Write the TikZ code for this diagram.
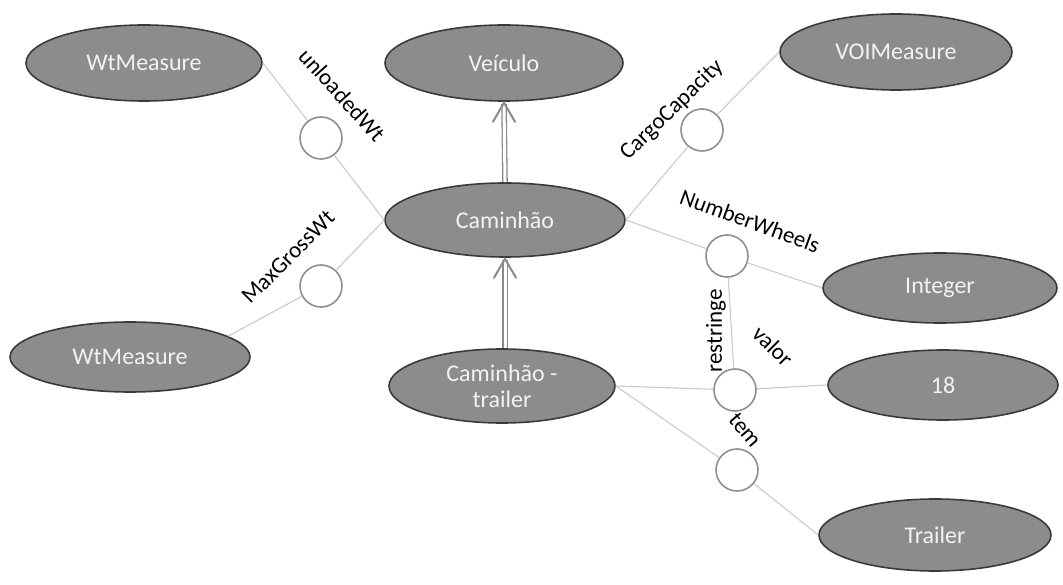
\documentclass[tikz,border=0pt]{standalone}
\usepackage{fontspec}
\setmainfont{Carlito}
\usetikzlibrary{shapes.geometric}
\definecolor{efill}{HTML}{8C8C8C}
\definecolor{eline}{HTML}{3A3A3A}
\definecolor{cline}{HTML}{8E8E8E}
\definecolor{conn}{HTML}{CACACA}
\definecolor{isa}{HTML}{8A8A8A}
\tikzset{
  concept/.style={ellipse, draw=eline, line width=1.6pt, fill=efill, text=white!95!black,
    inner sep=0pt, font=\fontsize{24}{26}\selectfont, align=center},
  relc/.style={circle, draw=cline, line width=1.6pt, fill=white, minimum size=42pt, inner sep=0pt},
  conline/.style={draw=conn, line width=1.1pt},
  rlabel/.style={font=\fontsize{23}{25}\selectfont, text=black, inner sep=1pt},
  isashaft/.style={draw=isa, line width=1.3pt, double=white, double distance=3pt},
  isatip/.style={draw=isa, line width=2pt, line cap=round, line join=miter}
}
\begin{document}
\begin{tikzpicture}[x=1pt,y=-1pt]
\path[use as bounding box] (0,0) rectangle (1063,585);
% concepts
\node[concept, minimum width=236pt, minimum height=76pt] (wt1) at (144,63) {WtMeasure};
\node[concept, minimum width=238pt, minimum height=76pt] (veic) at (504,63) {Veículo};
\node[concept, minimum width=232pt, minimum height=76pt] (voi) at (896,52) {VOIMeasure};
\node[concept, minimum width=240pt, minimum height=74pt] (cam) at (505,220) {Caminhão};
\node[concept, minimum width=234pt, minimum height=70pt] (int) at (940,288) {Integer};
\node[concept, minimum width=240pt, minimum height=70pt] (wt2) at (130,357) {WtMeasure};
\node[concept, minimum width=226pt, minimum height=74pt] (ct) at (502,386) {Caminhão -\\trailer};
\node[concept, minimum width=230pt, minimum height=70pt] (n18) at (943,385) {18};
\node[concept, minimum width=232pt, minimum height=72pt] (trl) at (935,535) {Trailer};
% relation circles
\node[relc] (c1) at (321,138) {};
\node[relc] (c2) at (321,286) {};
\node[relc] (c3) at (702,130) {};
\node[relc] (c4) at (727,256) {};
\node[relc] (c5) at (735,390) {};
\node[relc] (c6) at (737,470) {};
% connectors
\draw[conline] (wt1.east) -- (c1);
\draw[conline] (c1) -- (cam.west);
\draw[conline] (cam.west) -- (c2);
\draw[conline] (c2) -- (wt2.12);
\draw[conline] (cam.east) -- (c3);
\draw[conline] (c3) -- (voi.west);
\draw[conline] (cam.east) -- (c4);
\draw[conline] (c4) -- (int.west);
\draw[conline] (c5) -- (c4);
\draw[conline] (ct.east) -- (c5);
\draw[conline] (c5) -- (n18.west);
\draw[conline] (ct.east) -- (c6);
\draw[conline] (c6) -- (trl.west);
% is-a arrows
\draw[isashaft] (cam.north) -- ([yshift=-2pt]veic.south);
\draw[isatip] ([xshift=-11pt,yshift=-20pt]veic.south) -- ([yshift=-1pt]veic.south) -- ([xshift=11pt,yshift=-20pt]veic.south);
\coordinate (ctop) at (ct.north -| cam.south);
\draw[isashaft] (ctop) -- ([yshift=-2pt]cam.south);
\draw[isatip] ([xshift=-11pt,yshift=-20pt]cam.south) -- ([yshift=-1pt]cam.south) -- ([xshift=11pt,yshift=-20pt]cam.south);
% labels
\node[rlabel, rotate=-48] (lu) at (342,95) {unloadedWt};
\node[rlabel, rotate=45] (lm) at (288,257) {MaxGrossWt};
\node[rlabel, rotate=44] (lc) at (672,110) {CargoCapacity};
\node[rlabel, rotate=-20] (ln) at (750,221) {NumberWheels};
\node[rlabel, rotate=90] (lr) at (716,331) {restringe};
\node[rlabel, rotate=-45] (lv) at (773,346) {valor};
\node[rlabel, rotate=-50] (lt) at (745,430) {tem};
\end{tikzpicture}
\end{document}
